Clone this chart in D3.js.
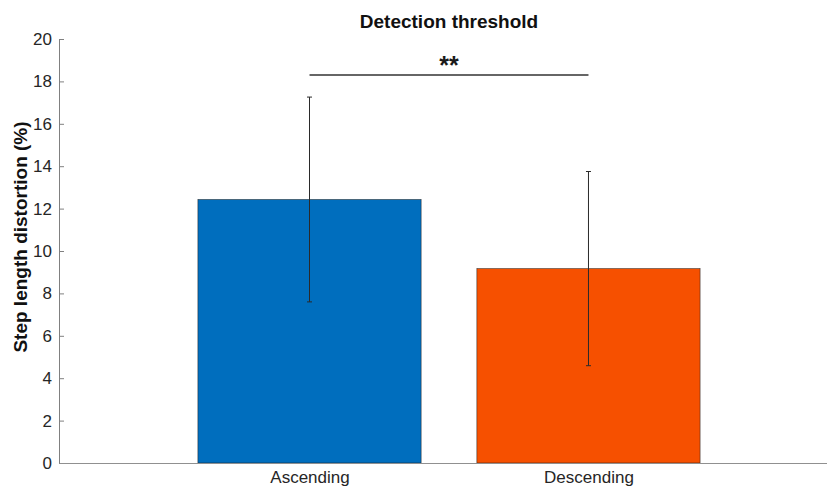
<!DOCTYPE html>
<html><head><meta charset="utf-8">
<script src="https://cdn.jsdelivr.net/npm/d3@7"></script>
<style>body{margin:0;background:#fff}svg{display:block;font-family:"Liberation Sans",Arial,sans-serif}</style>
</head><body><svg id="c" width="827" height="488"></svg>
<script>
const categories = ["Ascending", "Descending"];
const means = [12.43, 9.17];
const sds = [4.83, 4.58];
const colors = ["#006EBE", "#F65000"];
const yTicks = [0, 2, 4, 6, 8, 10, 12, 14, 16, 18, 20];
const sigLabel = "**";
const sigLevel = 18.3;
const title = "Detection threshold";
const yLabel = "Step length distortion (%)";

const svg = d3.select("#c");
const x = d3.scaleLinear().domain([0.102, 2.855]).range([59, 827]);
const y = d3.scaleLinear().domain([0, 20]).range([463, 39]);
const barW = x(1.4) - x(0.6);

// bars
svg.selectAll("rect.bar").data(means).join("rect")
  .attr("x", (d, i) => x(i + 1) - barW / 2)
  .attr("y", d => y(d))
  .attr("width", barW)
  .attr("height", d => y(0) - y(d))
  .attr("fill", (d, i) => colors[i])
  .attr("stroke", "#1a1a1a").attr("stroke-width", 0.5);

// error bars
const eb = svg.selectAll("g.eb").data(means).join("g").attr("stroke", "#2a2a2a").attr("stroke-width", 1);
eb.append("line").attr("x1", (d, i) => x(i + 1)).attr("x2", (d, i) => x(i + 1))
  .attr("y1", (d, i) => y(d - sds[i])).attr("y2", (d, i) => y(d + sds[i]));
eb.append("line").attr("x1", (d, i) => x(i + 1) - 2.5).attr("x2", (d, i) => x(i + 1) + 2.5)
  .attr("y1", (d, i) => y(d - sds[i])).attr("y2", (d, i) => y(d - sds[i]));
eb.append("line").attr("x1", (d, i) => x(i + 1) - 2.5).attr("x2", (d, i) => x(i + 1) + 2.5)
  .attr("y1", (d, i) => y(d + sds[i])).attr("y2", (d, i) => y(d + sds[i]));

// y axis
const yAxis = d3.axisLeft(y).tickValues(yTicks).tickSize(-5).tickPadding(7).tickFormat(d3.format("d"));
const gy = svg.append("g").attr("transform", `translate(${x(0.102)},0)`).call(yAxis);
gy.select(".domain").attr("stroke", "#808080");
gy.selectAll(".tick line").attr("stroke", "#808080");
gy.selectAll(".tick text").attr("fill", "#262626").style("font-size", "17px");

// x axis
const gx = svg.append("g").attr("transform", `translate(0,${y(0)})`)
  .call(d3.axisBottom(x).tickValues([1, 2]).tickSize(0).tickPadding(8).tickFormat(d => categories[d - 1]));
gx.select(".domain").attr("stroke", "#909090");
gx.selectAll(".tick text").attr("fill", "#262626").style("font-size", "17px");

// significance
svg.append("line").attr("x1", x(1)).attr("x2", x(2)).attr("y1", y(sigLevel)).attr("y2", y(sigLevel))
  .attr("stroke", "#333").attr("stroke-width", 1.5);
svg.append("text").attr("x", (x(1) + x(2)) / 2).attr("y", y(sigLevel) - 1).attr("text-anchor", "middle")
  .style("font-size", "25px").style("font-weight", "bold").attr("fill", "#1a1a1a").text(sigLabel);

// title
svg.append("text").attr("x", 449).attr("y", 28).attr("text-anchor", "middle")
  .style("font-size", "19px").style("font-weight", "bold").attr("fill", "#111").text(title);

// y label
svg.append("text").attr("transform", "translate(27,237) rotate(-90)").attr("text-anchor", "middle")
  .style("font-size", "19px").style("font-weight", "bold").attr("fill", "#111").text(yLabel);
</script></body></html>
